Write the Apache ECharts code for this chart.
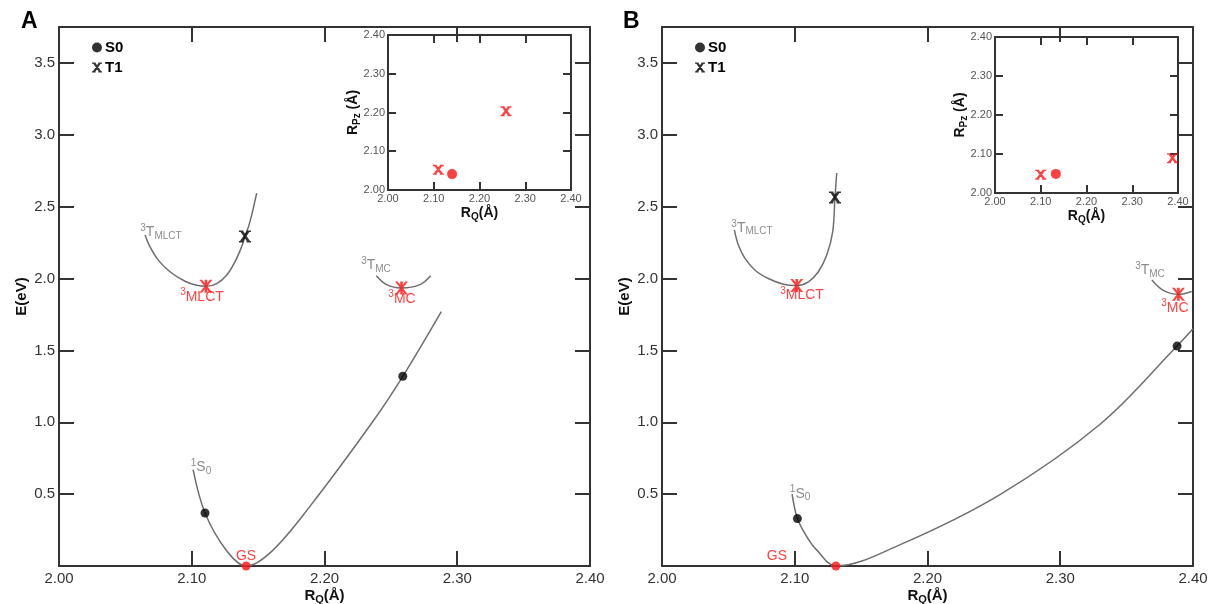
<!DOCTYPE html>
<html>
<head>
<meta charset="utf-8">
<script src="https://cdn.jsdelivr.net/npm/echarts@6/dist/echarts.min.js"></script>
<style>
html, body { margin: 0; padding: 0; background: #fff; }
#main { width: 1213px; height: 604px; }
</style>
</head>
<body>
<div id="main"></div>
<script>
// ---- panel A (R_Q in angstrom, E in eV) ----
var curveS0A = [[2.101, 0.671], [2.110, 0.369], [2.126, 0.11], [2.141, 0.0], [2.160, 0.10], [2.189, 0.415], [2.236, 1.0], [2.259, 1.32], [2.288, 1.77]];
var curveT1A = [[2.0648, 2.303], [2.0685, 2.222], [2.0748, 2.128], [2.0836, 2.047], [2.0949, 1.981], [2.1037, 1.953], [2.1107, 1.946],
  [2.1188, 1.965], [2.1263, 2.023], [2.1326, 2.117], [2.1376, 2.222], [2.1401, 2.292], [2.1439, 2.396], [2.1489, 2.594]];
var curveMCA = [[2.239, 2.02], [2.2468, 1.958], [2.258, 1.935], [2.2719, 1.958], [2.280, 2.02]];
var s0DotsA = [[2.110, 0.369], [2.259, 1.32]];
var gsA = [[2.141, 0.0]];
var t1CrossA = [[2.1401, 2.292]];
var t1MinA = [[2.1107, 1.946], [2.258, 1.935]];
var insetCrossA = [[2.110, 2.052], [2.258, 2.203]];
var insetDotA = [[2.140, 2.041]];
var grayLabelsA = [['{s|3}{n|T}{b|MLCT}', 2.0768, 2.322], ['{s|3}{n|T}{b|MC}', 2.2388, 2.091], ['{s|1}{n|S}{b|0}', 2.107, 0.685]];
var redLabelsA = [['{s|3}{n|MLCT}', 2.1077, 1.874], ['{s|3}{n|MC}', 2.2584, 1.860], ['{n|GS}', 2.1409, 0.070]];

// ---- panel B ----
var curveS0B = [[2.098, 0.50], [2.102, 0.33], [2.109, 0.205], [2.1165, 0.112], [2.131, 0.0], [2.179, 0.147], [2.2546, 0.497], [2.33, 0.986], [2.388, 1.53], [2.40, 1.65]];
var curveT1B = [[2.0545, 2.338], [2.0575, 2.233], [2.0625, 2.140], [2.0701, 2.058], [2.0801, 2.000], [2.0914, 1.960], [2.1015, 1.951],
  [2.1103, 1.977], [2.1178, 2.047], [2.1241, 2.163], [2.1286, 2.327], [2.1303, 2.564], [2.1316, 2.734]];
var curveMCB = [[2.369, 1.99], [2.3776, 1.918], [2.389, 1.89], [2.399, 1.91]];
var s0DotsB = [[2.102, 0.33], [2.388, 1.53]];
var gsB = [[2.131, 0.0]];
var t1CrossB = [[2.1303, 2.564]];
var t1MinB = [[2.1015, 1.951], [2.389, 1.89]];
var insetCrossB = [[2.100, 2.047], [2.388, 2.089]];
var insetDotB = [[2.133, 2.049]];
var grayLabelsB = [['{s|3}{n|T}{b|MLCT}', 2.0678, 2.350], ['{s|3}{n|T}{b|MC}', 2.3676, 2.056], ['{s|1}{n|S}{b|0}', 2.104, 0.503]];
var redLabelsB = [['{s|3}{n|MLCT}', 2.1055, 1.881], ['{s|3}{n|MC}', 2.3864, 1.797], ['{n|GS}', 2.0866, 0.070]];

var FONT = 'Liberation Sans, Arial, sans-serif';
var GRAY = '#6e6e6e';
var RED = '#ff1010';
var AXIS = '#333';

// bold x with small flat serifs at the four ends
var crossBar = 'path://M0.5,0L3.2,0L10,10L7.3,10Z M6.8,0L9.5,0L2.7,10L0,10Z M0,0L3.6,0L3.6,1.3L0,1.3Z M6.4,0L10,0L10,1.3L6.4,1.3Z M0,8.7L3.6,8.7L3.6,10L0,10Z M6.4,8.7L10,8.7L10,10L6.4,10Z';
// asterisk: x plus vertical stroke
var asterisk = 'path://M1,0L2.6,0L9,10L7.4,10Z M7.4,0L9,0L2.6,10L1,10Z M4.2,0L5.8,0L5.8,10L4.2,10Z';

var chart = echarts.init(document.getElementById('main'));

var labelRich = {
  s: { fontSize: 10, padding: [0, 0, 8, 0], fontFamily: FONT },
  n: { fontSize: 14, fontFamily: FONT },
  b: { fontSize: 10, padding: [7, 0, 0, 0], fontFamily: FONT }
};

function xAx(gi, pos, show, mini) {
  return {
    type: 'value', gridIndex: gi, position: pos, min: 2, max: 2.4, interval: 0.1,
    axisLine: { show: true, onZero: false, lineStyle: { color: AXIS, width: 2 } },
    axisTick: { show: true, inside: true, length: mini ? 8 : 15, lineStyle: { color: AXIS, width: 2 } },
    axisLabel: {
      show: show, color: mini ? '#555' : '#333', fontSize: mini ? 11 : 15, fontFamily: FONT, margin: mini ? 3 : 5,
      formatter: function (v) { return v.toFixed(2); }
    },
    splitLine: { show: false },
    name: show ? '{r|R}{q|Q}{r|(Å)}' : '', nameLocation: 'middle', nameGap: mini ? 15 : 21, nameMoveOverlap: false,
    nameTextStyle: {
      rich: {
        r: { fontSize: mini ? 14 : 15, fontWeight: 'bold', fontFamily: FONT, color: '#111' },
        q: { fontSize: mini ? 10 : 11, fontWeight: 'bold', fontFamily: FONT, color: '#111', padding: [7, 0, 0, 0] }
      }
    }
  };
}

function yMain(gi, pos, show) {
  return {
    type: 'value', gridIndex: gi, position: pos, min: 0, max: 3.75, interval: 0.5,
    axisLine: { show: true, onZero: false, lineStyle: { color: AXIS, width: 2 } },
    axisTick: { show: true, inside: true, length: 15, lineStyle: { color: AXIS, width: 2 } },
    axisLabel: {
      show: show, color: '#333', fontSize: 15, fontFamily: FONT, margin: 4,
      formatter: function (v) {
        var k = Math.round(v / 0.5);
        if (v < 0.1 || Math.abs(v - k * 0.5) > 1e-6) return '';
        return v.toFixed(1);
      }
    },
    splitLine: { show: false },
    name: show ? 'E(eV)' : '', nameLocation: 'middle', nameGap: 30, nameMoveOverlap: false,
    nameTextStyle: { fontSize: 15, fontWeight: 'bold', fontFamily: FONT, color: '#111' }
  };
}

function yInset(gi, pos, show) {
  return {
    type: 'value', gridIndex: gi, position: pos, min: 2, max: 2.4, interval: 0.1,
    axisLine: { show: true, onZero: false, lineStyle: { color: AXIS, width: 2 } },
    axisTick: { show: true, inside: true, length: 8, lineStyle: { color: AXIS, width: 2 } },
    axisLabel: {
      show: show, color: '#555', fontSize: 11, fontFamily: FONT, margin: 3,
      formatter: function (v) { return v.toFixed(2); }
    },
    splitLine: { show: false },
    name: show ? '{r|R}{q|Pz}{r| (Å)}' : '', nameLocation: 'middle', nameGap: 26, nameMoveOverlap: false,
    nameTextStyle: {
      rich: {
        r: { fontSize: 14, fontWeight: 'bold', fontFamily: FONT, color: '#111' },
        q: { fontSize: 10, fontWeight: 'bold', fontFamily: FONT, color: '#111', padding: [7, 0, 0, 0] }
      }
    }
  };
}

function curve(idx, data) {
  return {
    type: 'line', xAxisIndex: idx, yAxisIndex: idx, data: data, smooth: 0.35,
    showSymbol: false, silent: true, lineStyle: { color: GRAY, width: 1.5 }, z: 2
  };
}

function textSeries(idx, list, color) {
  return {
    type: 'scatter', xAxisIndex: idx, yAxisIndex: idx, symbolSize: 1, silent: true,
    itemStyle: { color: 'rgba(0,0,0,0)' },
    data: list.map(function (d) { return { value: [d[1], d[2]], name: d[0] }; }),
    label: {
      show: true, position: 'inside', color: color, formatter: function (p) { return p.name; },
      rich: {
        s: Object.assign({ color: color }, labelRich.s),
        n: Object.assign({ color: color }, labelRich.n),
        b: Object.assign({ color: color }, labelRich.b)
      }
    }, z: 5
  };
}

function panelSeries(idx, d) {
  return [
    curve(idx, d.s0), curve(idx, d.t1), curve(idx, d.mc),
    { name: 'S0', type: 'scatter', xAxisIndex: idx, yAxisIndex: idx, data: d.dots, symbol: 'circle', symbolSize: 9, itemStyle: { color: '#000' }, z: 4 },
    { name: 'T1', type: 'scatter', xAxisIndex: idx, yAxisIndex: idx, data: d.cross, symbol: crossBar, symbolSize: [12, 12], itemStyle: { color: '#000' }, z: 4 },
    { type: 'scatter', xAxisIndex: idx, yAxisIndex: idx, data: d.gs, symbol: 'circle', symbolSize: 9, itemStyle: { color: RED }, z: 4 },
    { type: 'scatter', xAxisIndex: idx, yAxisIndex: idx, data: d.min, symbol: asterisk, symbolSize: [13, 13], itemStyle: { color: RED }, z: 4 },
    textSeries(idx, d.gray, GRAY),
    textSeries(idx, d.red, RED)
  ];
}

function insetSeries(idx, cross, dot) {
  return [
    { type: 'scatter', xAxisIndex: idx, yAxisIndex: idx, data: cross, symbol: crossBar, symbolSize: [11, 10], itemStyle: { color: RED } },
    { type: 'scatter', xAxisIndex: idx, yAxisIndex: idx, data: dot, symbol: 'circle', symbolSize: 10, itemStyle: { color: RED } }
  ];
}

var series = [].concat(
  panelSeries(0, { s0: curveS0A, t1: curveT1A, mc: curveMCA, dots: s0DotsA, cross: t1CrossA, gs: gsA, min: t1MinA, gray: grayLabelsA, red: redLabelsA }),
  panelSeries(1, { s0: curveS0B, t1: curveT1B, mc: curveMCB, dots: s0DotsB, cross: t1CrossB, gs: gsB, min: t1MinB, gray: grayLabelsB, red: redLabelsB }),
  insetSeries(2, insetCrossA, insetDotA),
  insetSeries(3, insetCrossB, insetDotB)
);

var legendCommon = {
  orient: 'vertical', itemWidth: 10, itemHeight: 10, itemGap: 5, padding: 0,
  textStyle: { fontSize: 15, fontWeight: 'bold', fontFamily: FONT, color: '#000', padding: [0, 0, 0, -2] },
  data: ['S0', 'T1'], selectedMode: false
};

chart.setOption({
  animation: false,
  backgroundColor: '#fff',
  grid: [
    { left: 59, top: 27, width: 531, height: 539, outerBoundsMode: 'none' },
    { left: 662, top: 27, width: 531, height: 539, outerBoundsMode: 'none' },
    { left: 388, top: 35, width: 183, height: 155, outerBoundsMode: 'none' },
    { left: 995, top: 37, width: 183, height: 156, outerBoundsMode: 'none' }
  ],
  legend: [
    Object.assign({ left: 92, top: 40 }, legendCommon),
    Object.assign({ left: 695, top: 40 }, legendCommon)
  ],
  xAxis: [
    xAx(0, 'bottom', true, false), xAx(1, 'bottom', true, false),
    xAx(2, 'bottom', true, true), xAx(3, 'bottom', true, true),
    xAx(0, 'top', false, false), xAx(1, 'top', false, false),
    xAx(2, 'top', false, true), xAx(3, 'top', false, true)
  ],
  yAxis: [
    yMain(0, 'left', true), yMain(1, 'left', true),
    yInset(2, 'left', true), yInset(3, 'left', true),
    yMain(0, 'right', false), yMain(1, 'right', false),
    yInset(2, 'right', false), yInset(3, 'right', false)
  ],
  graphic: [
    { type: 'text', left: 21, top: 10, style: { text: 'A', font: 'bold 23px ' + FONT, fill: '#000' } },
    { type: 'text', left: 623, top: 10, style: { text: 'B', font: 'bold 23px ' + FONT, fill: '#000' } }
  ],
  series: series
});
</script>
</body>
</html>
